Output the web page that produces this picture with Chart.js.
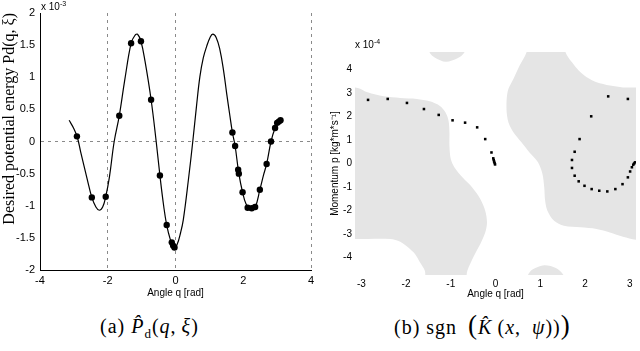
<!DOCTYPE html>
<html>
<head>
<meta charset="utf-8">
<script src="https://cdn.jsdelivr.net/npm/chart.js"></script>
<style>
  body { margin: 0; background: #fff; width: 640px; height: 351px; overflow: hidden; position: relative; }
  canvas { position: absolute; top: 0; }
  .note { position: absolute; font-family: 'Liberation Sans', Arial, sans-serif; font-size: 10px; color: #000; }
  .note sup { font-size: 7px; }
  .cap { position: absolute; top: 315px; font-family: 'Liberation Serif', 'Times New Roman', serif; font-size: 20px; color: #000; white-space: nowrap; letter-spacing: 1px; }
  .cap sub { font-size: 13px; }
</style>
</head>
<body>
<canvas id="energyChart" width="320" height="300" style="left:0"></canvas>
<canvas id="signChart" width="320" height="300" style="left:320px"></canvas>
<div class="note" style="left:41px; top:0px;">x 10<sup>-3</sup></div>
<div class="note" style="left:355px; top:38px;">x 10<sup>-4</sup></div>
<div class="cap" style="left:100px;">(a) <i>P&#770;</i><sub>d</sub>(<i>q</i>,&thinsp;<i>&xi;</i>)</div>
<div class="cap" style="left:394px; top:310px;">(b) sgn&ensp;<span style="font-size:27px">(</span><i>K&#770;</i>&thinsp;(<i>x</i>,&ensp;<i>&psi;</i>))<span style="font-size:27px">)</span></div>
<script>
// (a) desired potential energy (units of 1e-3)
const curveQ = [-3.14, -3.0, -2.9, -2.8, -2.6, -2.47, -2.35, -2.25, -2.15, -2.06, -1.95, -1.81, -1.66, -1.5, -1.31, -1.2, -1.12, -1.02, -0.9, -0.72, -0.57, -0.46, -0.35, -0.26, -0.15, -0.05, 0.05, 0.15, 0.23, 0.38, 0.51, 0.62, 0.72, 0.82, 0.92, 1.02, 1.10, 1.20, 1.31, 1.42, 1.51, 1.6, 1.68, 1.76, 1.87, 1.98, 2.08, 2.2, 2.35, 2.49, 2.6, 2.69, 2.82, 2.94, 3.04, 3.14];
const curveP = [0.33, 0.2, 0.07, -0.16, -0.6, -0.87, -1.02, -1.07, -1.02, -0.86, -0.55, 0, 0.40, 0.95, 1.53, 1.65, 1.67, 1.56, 1.25, 0.65, 0, -0.53, -1.0, -1.30, -1.53, -1.66, -1.60, -1.42, -1.22, -0.6, 0, 0.55, 1.01, 1.3, 1.48, 1.62, 1.67, 1.62, 1.43, 1.1, 0.75, 0.42, 0.14, -0.07, -0.50, -0.79, -0.97, -1.05, -1.02, -0.75, -0.52, -0.35, 0, 0.21, 0.3, 0.34];
const markQ = [-2.91, -2.47, -2.06, -1.66, -1.31, -1.02, -0.72, -0.46, -0.26, -0.11, -0.07, -0.03, 1.68, 1.76, 1.85, 1.87, 1.98, 2.13, 2.25, 2.35, 2.49, 2.69, 2.82, 2.94, 3.0, 3.05, 3.10];
const markP = [0.08, -0.87, -0.86, 0.40, 1.53, 1.56, 0.65, -0.53, -1.30, -1.57, -1.62, -1.65, 0.14, -0.07, -0.44, -0.50, -0.79, -1.03, -1.04, -1.02, -0.75, -0.35, 0, 0.21, 0.29, 0.31, 0.33];
const xTicksA = [-4, -2, 0, 2, 4];
const guideQ = [-2, 0, 4];

// (b) sign regions (gray = positive) and trajectory samples (p in 1e-4)
const regionAQ = [-3.5, -3.08, -2.86, -2.50, -2.13, -1.76, -1.47, -1.25, -1.12, -1.05, -1.03, -1.03, -1.00, -0.92, -0.74, -0.52, -0.34, -0.23, -0.19, -0.23, -0.34, -0.48, -0.63, -0.70, -1.53, -1.58, -1.69, -1.80, -1.95, -2.13, -2.35, -3.08, -3.5];
const regionAP = [3.25, 3.22, 3.03, 2.86, 2.79, 2.75, 2.65, 2.46, 2.18, 1.82, 1.33, 0.76, 0.19, -0.16, -0.59, -1.02, -1.51, -2.01, -2.51, -2.94, -3.43, -3.93, -4.57, -5.1, -5.1, -4.57, -4.21, -3.86, -3.58, -3.33, -3.22, -3.22, -3.22];
const regionBQ = [-1.50, -1.47, -1.36, -1.11, -0.85, -0.70, -0.67];
const regionBP = [5.1, 4.72, 4.52, 4.33, 4.48, 4.72, 5.1];
const regionCQ = [0.70, 0.725, 0.835, 1.09, 1.35, 1.52, 1.55];
const regionCP = [-5.1, -4.75, -4.50, -4.33, -4.45, -4.75, -5.1];
const regionDQ = [0.72, 0.69, 0.54, 0.40, 0.29, 0.25, 0.25, 0.29, 0.40, 0.58, 0.76, 0.95, 1.05, 1.09, 1.11, 1.16, 1.31, 1.53, 1.90, 2.26, 2.56, 2.85, 3.14, 3.5, 3.5, 3.14, 2.85, 2.56, 2.26, 2.04, 1.86, 1.71, 1.57, 1.55];
const regionDP = [5.1, 4.72, 4.17, 3.60, 3.18, 2.75, 2.18, 1.75, 1.33, 0.90, 0.47, 0.05, -0.45, -1.02, -1.59, -2.01, -2.44, -2.65, -2.72, -2.79, -2.94, -3.12, -3.25, -3.3, 3.24, 3.24, 3.24, 3.32, 3.46, 3.67, 3.96, 4.31, 4.72, 5.1];
const trajQ = [-2.85, -2.41, -1.98, -1.60, -1.27, -0.96, -0.68, -0.41, -0.23, -0.09, -0.05, -0.04, -0.03, -0.02, -0.01, 1.71, 1.77, 1.88, 2.14, 2.52, 2.96, 1.71, 1.77, 1.86, 1.99, 2.15, 2.32, 2.50, 2.68, 2.84, 2.96, 3.01, 3.05, 3.08, 3.10, 3.12];
const trajP = [2.71, 2.75, 2.58, 2.32, 2.07, 1.84, 1.74, 1.54, 1.04, 0.47, 0.22, 0.15, 0.08, 0.02, -0.04, 0.15, 0.50, 1.04, 2.01, 2.86, 2.75, -0.19, -0.52, -0.76, -0.95, -1.09, -1.16, -1.19, -1.09, -0.88, -0.59, -0.34, -0.16, -0.05, 0.0, 0.05];
const xTicksB = [-3, -2, -1, 0, 1, 2, 3];
const yTicksB = [-4, -3, -2, -1, 0, 1, 2, 3, 4];

const sans = 'Liberation Sans, Arial, sans-serif';
const grey = '#e5e5e5';

function pts(xs, ys) {
    return xs.map((x, i) => ({x: x, y: ys[i]}));
}

function region(xs, ys) {
    return {
        data: pts(xs, ys),
        showLine: true,
        fill: 'shape',
        backgroundColor: grey,
        borderWidth: 0,
        pointRadius: 0,
        tension: 0.3
    };
}

const configA = {
    type: 'scatter',
    data: {
        datasets: [{
            data: pts(markQ, markP),
            pointRadius: 3.2,
            pointBackgroundColor: '#000',
            pointBorderWidth: 0
        }, {
            data: pts(curveQ, curveP),
            showLine: true,
            borderColor: '#000',
            borderWidth: 1.2,
            pointRadius: 0,
            tension: 0.4
        }]
    },
    options: {
        responsive: false,
        animation: false,
        layout: {padding: {top: 13, right: 9}},
        plugins: {legend: {display: false}, tooltip: {enabled: false}},
        scales: {
            x: {
                min: -4, max: 4,
                afterFit: s => { s.height = 30; },
                afterBuildTicks: s => { s.ticks = xTicksA.map(v => ({value: v})); },
                ticks: {color: '#000', font: {family: sans, size: 11}, padding: 4},
                grid: {
                    drawTicks: false,
                    color: c => guideQ.includes(c.tick.value) ? '#8a8a8a' : 'rgba(0,0,0,0)'
                },
                border: {display: true, color: '#000', dash: [3, 4]},
                title: {display: true, text: 'Angle q [rad]', color: '#000', font: {family: sans, size: 10}, padding: {top: 0, bottom: 1}}
            },
            y: {
                min: -2, max: 2,
                afterFit: s => { s.width = 40; },
                ticks: {
                    stepSize: 0.5, color: '#000', font: {family: sans, size: 11}, padding: 5,
                    callback: v => String(v)
                },
                grid: {
                    drawTicks: false,
                    color: c => c.tick.value === 0 ? '#8a8a8a' : 'rgba(0,0,0,0)'
                },
                border: {display: true, color: '#000', dash: [3, 4]},
                title: {
                    display: true, align: 'end',
                    text: 'Desired potential energy Pd(q, ξ)',
                    color: '#000',
                    font: {family: 'Liberation Serif, Times New Roman, serif', size: 16},
                    padding: {top: 0, bottom: 0}
                }
            }
        }
    }
};

const configB = {
    type: 'scatter',
    data: {
        datasets: [
            {
                data: pts(trajQ, trajP),
                pointStyle: 'rect',
                pointRadius: 1.8,
                pointBackgroundColor: '#000',
                pointBorderWidth: 0
            },
            region(regionAQ, regionAP),
            region(regionBQ, regionBP),
            region(regionCQ, regionCP),
            region(regionDQ, regionDP)
        ]
    },
    options: {
        responsive: false,
        animation: false,
        layout: {padding: {top: 52, right: 0}},
        plugins: {legend: {display: false}, tooltip: {enabled: false}},
        scales: {
            x: {
                min: -Math.PI, max: Math.PI,
                afterFit: s => { s.height = 25; },
                afterBuildTicks: s => { s.ticks = xTicksB.map(v => ({value: v})); },
                ticks: {color: '#000', font: {family: sans, size: 10}, padding: 3},
                grid: {display: false, drawTicks: false},
                border: {display: false},
                title: {display: true, text: 'Angle q [rad]', color: '#000', font: {family: sans, size: 10}, padding: {top: 0, bottom: 0}}
            },
            y: {
                min: -4.75, max: 4.75,
                afterFit: s => { s.width = 35; },
                afterBuildTicks: s => { s.ticks = yTicksB.map(v => ({value: v})); },
                ticks: {color: '#000', font: {family: sans, size: 10}, padding: 3},
                grid: {display: false, drawTicks: false},
                border: {display: false},
                title: {display: true, text: 'Momentum p [kg*m*s⁻¹]', color: '#000', font: {family: sans, size: 10}, padding: {top: 9, bottom: 0}}
            }
        }
    }
};

new Chart(document.getElementById('energyChart').getContext('2d'), configA);
new Chart(document.getElementById('signChart').getContext('2d'), configB);
</script>
</body>
</html>
